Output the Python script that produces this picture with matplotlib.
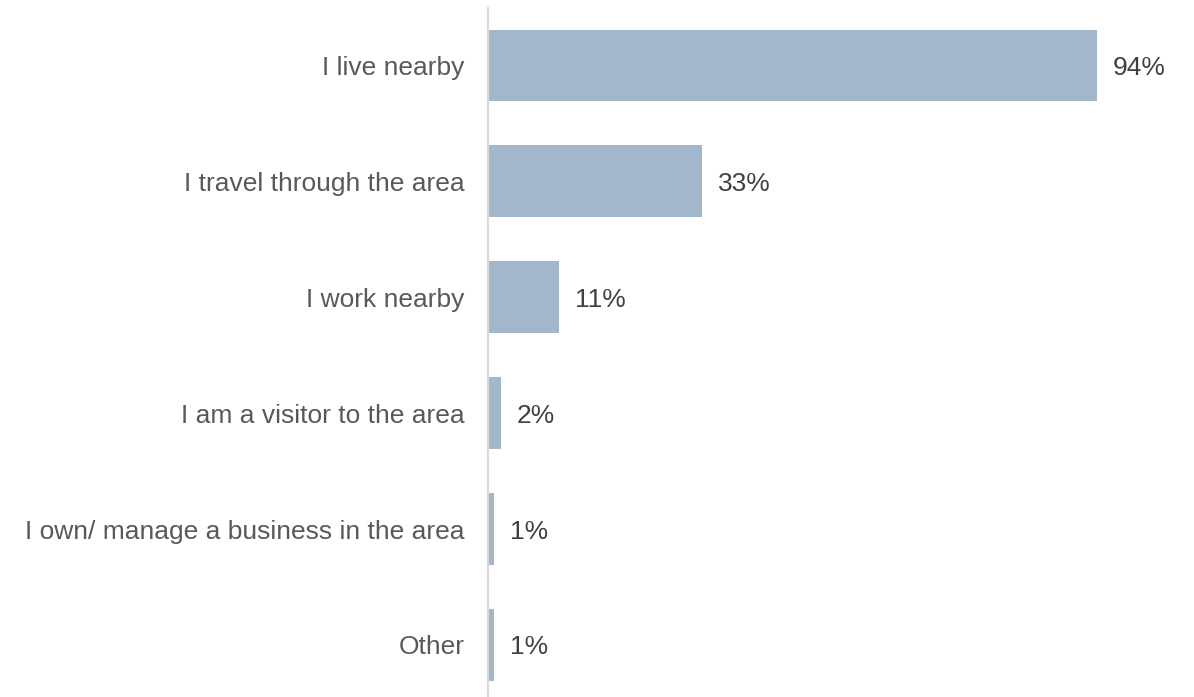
import numpy as np
import matplotlib
matplotlib.use("Agg")
import matplotlib.pyplot as plt

categories = ["I live nearby", "I travel through the area", "I work nearby",
              "I am a visitor to the area", "I own/ manage a business in the area", "Other"]
values = [94, 33, 11, 2, 1, 1]

plt.rcParams['font.family'] = ['Liberation Sans', 'DejaVu Sans']

fig = plt.figure(figsize=(11.94, 6.97), dpi=100)
W, H = 1194, 697
left, right = 488, 1194
top, bottom = 8, 697
ax = fig.add_axes([left / W, 1 - bottom / H, (right - left) / W, (bottom - top) / H])

y = np.arange(len(categories))
ax.barh(y, values, height=0.62, color="#a2b7cb")

step = 115.9
ax.set_ylim(5 + (bottom - 645) / step, -(65.5 - top) / step)
ax.set_xlim(0, (right - left) / 6.48)

for yi, v in zip(y, values):
    ax.annotate(f"{v}%", (v, yi), xytext=(11.5, 0), textcoords="offset points",
                va="center_baseline", ha="left", fontsize=19, color="#404040")

ax.set_yticks(y)
ax.set_yticklabels(categories, fontsize=19, color="#595959")
ax.tick_params(axis="y", length=0, pad=17)
ax.set_xticks([])
for s in ["top", "right", "bottom"]:
    ax.spines[s].set_visible(False)
ax.spines["left"].set_color("#d9d9d9")
ax.spines["left"].set_linewidth(1.5)

fig.savefig("out.png", dpi=100)
